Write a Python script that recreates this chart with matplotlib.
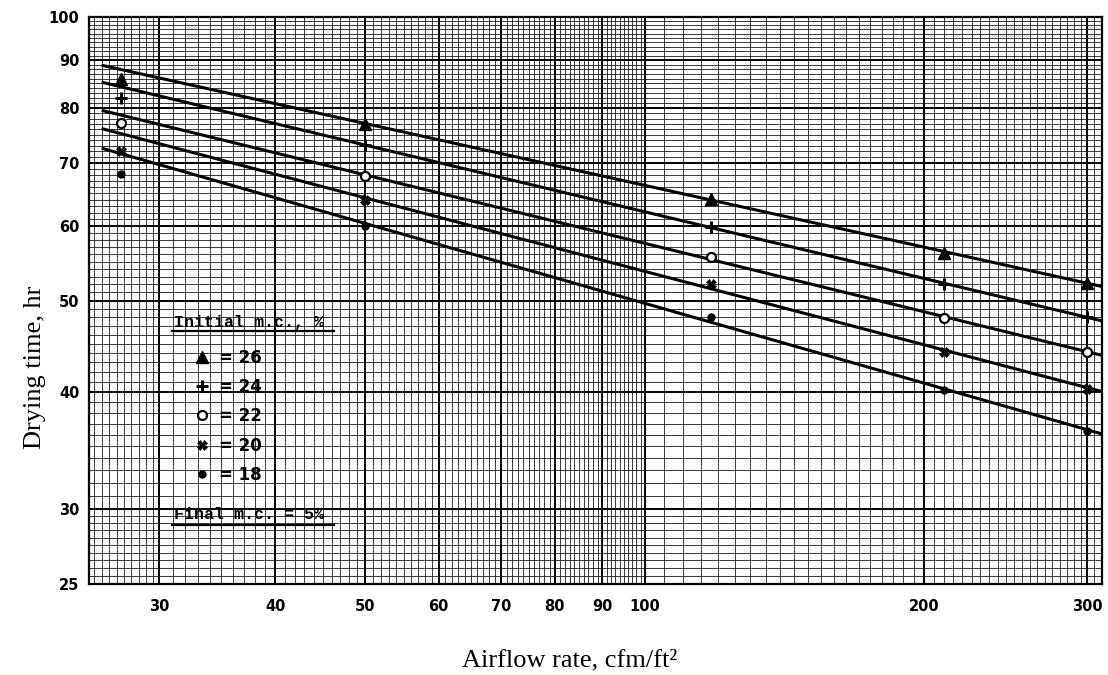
import numpy as np
import matplotlib
matplotlib.use("Agg")
import matplotlib.pyplot as plt
from matplotlib.lines import Line2D
from matplotlib.ticker import NullFormatter

# values (log-log graph paper)
airflow = [27.3, 50, 118, 210, 300]          # cfm/ft2
initial_mc = [26, 24, 22, 20, 18]            # %
drying_26 = [85.9, 77.0, 64.1, 56.2, 52.2]   # hr
drying_24 = [82.0, 73.1, 59.8, 52.1, 48.0]
drying_22 = [77.2, 67.8, 55.6, 47.9, 44.1]
drying_20 = [72.1, 63.9, 52.1, 44.1, 40.3]
drying_18 = [68.1, 60.0, 48.0, 40.2, 36.3]
series = [drying_26, drying_24, drying_22, drying_20, drying_18]

x_ticks = [30, 40, 50, 60, 70, 80, 90, 100, 200, 300]
y_ticks = [25, 30, 40, 50, 60, 70, 80, 90, 100]
line_range = [26, 311]

markers = [
    dict(marker="^", ms=8, mfc="black", mec="black"),
    dict(marker="+", ms=9, mew=2.2, mec="black"),
    dict(marker="o", ms=6.5, mew=1.6, mfc="white", mec="black"),
    dict(marker="X", ms=6.5, mfc="black", mec="black", mew=0.5),
    dict(marker="o", ms=5, mfc="black", mec="black"),
]

fig = plt.figure(figsize=(11.08, 6.75), dpi=100)
ax = fig.add_axes([89 / 1108, 1 - 584 / 675, 1013 / 1108, 567 / 675])
ax.set_xscale("log")
ax.set_yscale("log")
ax.set_xlim(25.2, 311)
ax.set_ylim(25, 100)

# graph paper grid
x_minor = np.concatenate([np.arange(25.5, 30, 0.5), np.arange(30, 100, 1), np.arange(100, 311, 5)])
y_minor = np.concatenate([np.arange(25, 30, 0.5), np.arange(30, 100, 1)])
ax.set_xticks(x_ticks)
ax.set_xticks(x_minor, minor=True)
ax.set_yticks(y_ticks)
ax.set_yticks(y_minor, minor=True)
ax.set_xticklabels([str(v) for v in x_ticks])
ax.set_yticklabels([str(v) for v in y_ticks])
ax.xaxis.set_minor_formatter(NullFormatter())
ax.yaxis.set_minor_formatter(NullFormatter())
ax.grid(which="major", color="black", lw=1.4)
ax.grid(which="minor", color="#1a1a1a", lw=0.6)
ax.set_axisbelow(True)
ax.tick_params(which="both", length=0)
ax.tick_params(axis="x", pad=11)
ax.tick_params(axis="y", pad=7)
for lab in ax.get_xticklabels() + ax.get_yticklabels():
    lab.set_fontweight("bold")
    lab.set_fontsize(10.5)
for sp in ax.spines.values():
    sp.set_linewidth(1.6)

# data points and fitted power-law lines (fit through the upper four airflows)
lx = np.array(line_range, dtype=float)
for ys, mk in zip(series, markers):
    ax.plot(airflow, ys, ls="none", zorder=4, **mk)
    k, b = np.polyfit(np.log10(airflow[1:]), np.log10(ys[1:]), 1)
    ax.plot(lx, 10 ** (b + k * np.log10(lx)), color="black", lw=2.2, zorder=3,
            solid_capstyle="butt")

# legend block
mono = dict(family="Liberation Mono", fontweight="bold", fontsize=12)
ax.text(0.084, 0.462, "Initial m.c., %", transform=ax.transAxes, va="center", ha="left", **mono)
ax.plot([0.082, 0.242], [0.446, 0.446], transform=ax.transAxes, color="black", lw=1.6)
ax.text(0.084, 0.122, "Final m.c. = 5%", transform=ax.transAxes, va="center", ha="left", **mono)
ax.plot([0.082, 0.242], [0.104, 0.104], transform=ax.transAxes, color="black", lw=1.6)

handles = [Line2D([], [], ls="none", **mk) for mk in markers]
labels = ["= %d" % v for v in initial_mc]
leg = ax.legend(handles, labels, loc="upper left", bbox_to_anchor=(0.095, 0.43),
                frameon=False, handlelength=1.0, handletextpad=0.5, labelspacing=0.68,
                borderpad=0, prop=dict(family="DejaVu Sans", weight="bold", size=12))

fig.text(0.032, 0.456, "Drying time, hr", rotation=90, ha="center", va="center",
         family="Liberation Serif", fontsize=19)
fig.text(0.514, 0.022, "Airflow rate, cfm/ft\u00b2", ha="center", va="center",
         family="Liberation Serif", fontsize=19)

fig.savefig("out.png", dpi=100)
